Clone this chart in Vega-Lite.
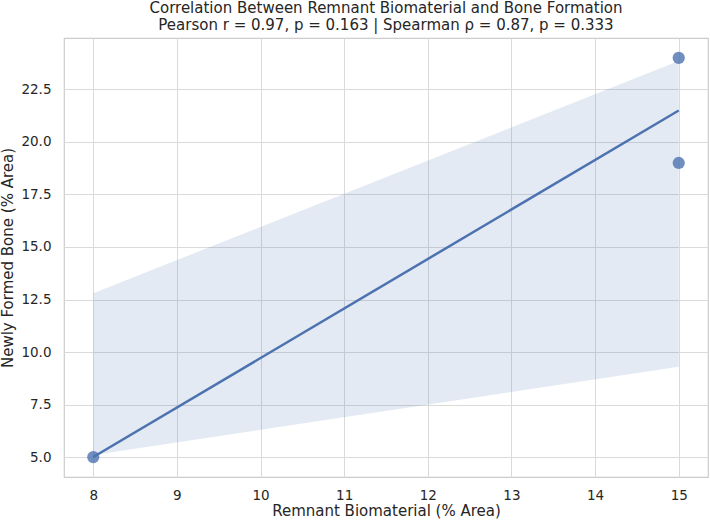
{
  "$schema": "https://vega.github.io/schema/vega-lite/v6.json",
  "width": 644,
  "height": 439,
  "autosize": {"type": "none"},
  "padding": {"left": 64, "top": 38, "right": 2, "bottom": 44},
  "background": "white",
  "config": {
    "font": "DejaVu Sans",
    "view": {"stroke": "#cccccc", "strokeWidth": 1.2},
    "axis": {
      "domain": false,
      "ticks": false,
      "grid": true,
      "gridColor": "#dadada",
      "gridWidth": 1,
      "labelFont": "DejaVu Sans",
      "labelFontSize": 13.5,
      "labelColor": "#262626",
      "titleFont": "DejaVu Sans",
      "titleFontSize": 15,
      "titleFontWeight": "normal",
      "titleColor": "#262626"
    }
  },
  "title": {
    "text": ["Correlation Between Remnant Biomaterial and Bone Formation", "Pearson r = 0.97, p = 0.163 | Spearman ρ = 0.87, p = 0.333"],
    "font": "DejaVu Sans",
    "fontSize": 15,
    "fontWeight": "normal",
    "color": "#262626",
    "lineHeight": 17,
    "offset": 5,
    "anchor": "middle"
  },
  "datasets": {
    "points": [
      {"remnant": 8, "bone": 5},
      {"remnant": 15, "bone": 24},
      {"remnant": 15, "bone": 19}
    ],
    "fit": [
      {"remnant": 8, "bone": 5.0, "lower": 5.1, "upper": 12.8},
      {"remnant": 15, "bone": 21.5, "lower": 9.3, "upper": 23.85}
    ]
  },
  "layer": [
    {
      "data": {"name": "fit"},
      "mark": {"type": "area", "color": "#4c72b0", "opacity": 0.15},
      "encoding": {
        "x": {"field": "remnant", "type": "quantitative"},
        "y": {"field": "lower", "type": "quantitative"},
        "y2": {"field": "upper"}
      }
    },
    {
      "data": {"name": "points"},
      "mark": {"type": "circle", "color": "#4c72b0", "opacity": 0.8, "size": 150},
      "encoding": {
        "x": {
          "field": "remnant",
          "type": "quantitative",
          "scale": {"domain": [7.65, 15.35], "nice": false, "zero": false},
          "axis": {"values": [8, 9, 10, 11, 12, 13, 14, 15], "format": "d", "labelPadding": 11, "titlePadding": 2, "title": "Remnant Biomaterial (% Area)"}
        },
        "y": {
          "field": "bone",
          "type": "quantitative",
          "scale": {"domain": [4.05, 24.95], "nice": false, "zero": false},
          "axis": {"values": [5, 7.5, 10, 12.5, 15, 17.5, 20, 22.5], "format": ".1f", "labelPadding": 13, "titlePadding": 5, "title": "Newly Formed Bone (% Area)"}
        }
      }
    },
    {
      "data": {"name": "fit"},
      "mark": {"type": "line", "color": "#4c72b0", "strokeWidth": 2.5},
      "encoding": {
        "x": {"field": "remnant", "type": "quantitative"},
        "y": {"field": "bone", "type": "quantitative"}
      }
    }
  ]
}
